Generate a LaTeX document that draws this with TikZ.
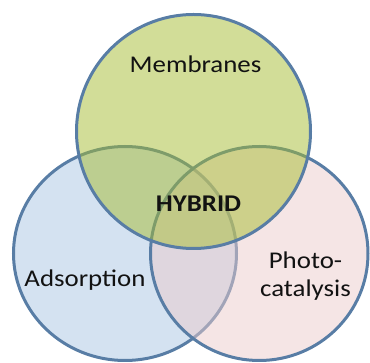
\documentclass[tikz,border=0pt]{standalone}
\usepackage{fontspec}
\newfontfamily\lblfont[FakeStretch=1.12]{Carlito}
\definecolor{edge}{RGB}{88,125,165}
\definecolor{fillblue}{RGB}{169,197,227}
\definecolor{fillpink}{RGB}{235,203,203}
\definecolor{fillgreen}{RGB}{165,187,49}
\definecolor{ink}{RGB}{18,18,18}
\begin{document}
\begin{tikzpicture}[x=1pt,y=-1pt,
  ring/.style={draw=edge,line width=3pt,fill opacity=0.5},
  lbl/.style={font=\lblfont\fontsize{24}{28.5}\selectfont,text=ink,inner sep=0pt,anchor=base,align=center}]
\useasboundingbox (0,0) rectangle (370,363);
\begin{scope}
\clip (0,0) rectangle (370,363);
\draw[ring,fill=fillblue] (125,253.5) ellipse [x radius=111.5pt,y radius=107pt];
\draw[ring,fill=fillpink] (259.25,253.5) ellipse [x radius=108.75pt,y radius=107pt];
\draw[ring,fill=fillgreen] (193.5,131.5) circle [radius=117pt];
\end{scope}
\node[lbl] (membranes) at (195.5,73) {Membranes};
\node[lbl,font=\lblfont\bfseries\fontsize{24}{28.5}\selectfont] (hybrid) at (198.5,212) {HYBRID};
\node[lbl] (adsorption) at (85,287) {Adsorption};
\node[lbl] (photo) at (305.5,296.8) {Photo-\\catalysis};
\end{tikzpicture}
\end{document}
